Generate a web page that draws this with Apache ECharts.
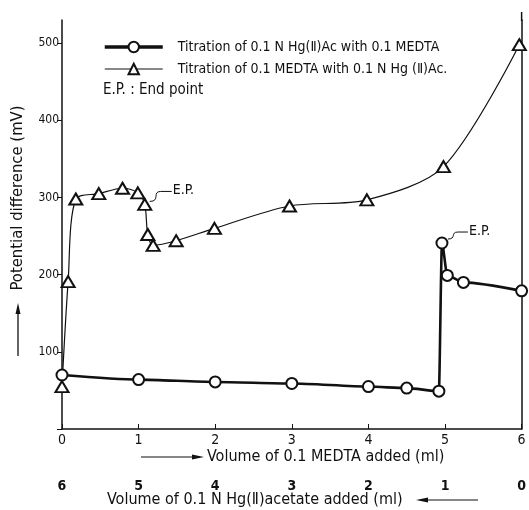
<!DOCTYPE html>
<html><head><meta charset="utf-8">
<script src="https://cdn.jsdelivr.net/npm/echarts@6/dist/echarts.min.js"></script>
<style>html,body{margin:0;padding:0;background:#fff}#c{width:529px;height:510px}</style>
</head><body><div id="c"></div>
<script>
const hgTitratedX = [0,1,2,3,4,4.5,4.92,4.96,5.03,5.24,6];
const hgTitratedY = [70,64,61,59,55,53,49,241,199,190,179];
const edtaTitratedX = [0,0.08,0.18,0.48,0.79,0.99,1.08,1.12,1.19,1.49,1.99,2.97,3.98,4.98,5.97];
const edtaTitratedY = [55,191,298,305,312,306,291,252,238,244,260,289,297,340,498];
const seriesNames = ['Titration of 0.1 N Hg(Ⅱ)Ac with 0.1 MEDTA','Titration of 0.1 MEDTA with 0.1 N Hg (Ⅱ)Ac.'];
const epPoints = [[1.08,291],[4.96,241]];

const FONT = '"DejaVu Sans Condensed","Liberation Sans Narrow","Liberation Sans",Arial,sans-serif';
const chart = echarts.init(document.getElementById('c'), null, {renderer:'canvas'});
const zip = (xs,ys)=>xs.map((x,i)=>[x,ys[i]]);

chart.setOption({
  animation:false,
  backgroundColor:'#fff',
  grid:{left:62,right:4,top:20,bottom:81},
  legend:{
    orient:'vertical', left:98, top:35, itemWidth:58, itemHeight:13, itemGap:8,
    textStyle:{fontFamily:FONT,fontSize:14,color:'#111',padding:[0,0,0,10]},
    data:[{name:seriesNames[0],lineStyle:{width:3.5}},{name:seriesNames[1],lineStyle:{width:1.2}}]
  },
  xAxis:[{
    type:'value',min:0,max:6,interval:1,position:'bottom',
    axisLine:{lineStyle:{color:'#111',width:1.5}},
    axisTick:{inside:true,length:5,lineStyle:{color:'#111'}},
    axisLabel:{margin:4,fontSize:14,color:'#111',fontFamily:FONT},
    splitLine:{show:false}
  },{
    type:'value',min:0,max:6,interval:1,position:'bottom',inverse:true,offset:46,
    axisLine:{show:false},axisTick:{show:false},
    axisLabel:{margin:4,fontSize:14,color:'#111',fontWeight:'bold',fontFamily:FONT},
    splitLine:{show:false}
  }],
  yAxis:[{
    type:'value',min:0,max:530,interval:100,position:'left',
    axisLine:{show:true,lineStyle:{color:'#111',width:1.5}},
    axisTick:{show:true,length:5,lineStyle:{color:'#111'}},
    axisLabel:{margin:3,fontSize:12,color:'#111',fontFamily:FONT,showMaxLabel:false,
      formatter:v=>v===0?'':String(v)},
    splitLine:{show:false}
  },{
    type:'value',min:0,max:530,position:'right',
    axisLine:{show:true,lineStyle:{color:'#111',width:1.5}},
    axisTick:{show:false},axisLabel:{show:false},splitLine:{show:false}
  }],
  series:[{
    name:seriesNames[0],type:'line',data:zip(hgTitratedX,hgTitratedY),
    symbol:'emptyCircle',symbolSize:11,
    lineStyle:{color:'#111',width:2.6},itemStyle:{color:'#111',borderWidth:1.3},
    smooth:0.25,smoothMonotone:'x'
  },{
    name:seriesNames[1],type:'line',data:zip(edtaTitratedX,edtaTitratedY),
    symbol:'emptyTriangle',symbolSize:[13,11],
    lineStyle:{color:'#111',width:1.2},itemStyle:{color:'#111',borderWidth:1.2},
    smooth:0.3
  }]
});

const p1 = chart.convertToPixel({gridIndex:0},epPoints[0]);
const p2 = chart.convertToPixel({gridIndex:0},epPoints[1]);
const pTop = chart.convertToPixel({gridIndex:0},[6,530]);
const g = [];
const S = {stroke:'#111',fill:null,lineWidth:1};
// E.P. annotations
g.push({type:'bezierCurve',shape:{x1:p1[0]+5,y1:p1[1]-3,cpx1:p1[0]+16,cpy1:p1[1]-3,cpx2:p1[0]+7,cpy2:p1[1]-13,x2:p1[0]+16,y2:p1[1]-13},style:S});
g.push({type:'line',shape:{x1:p1[0]+16,y1:p1[1]-13,x2:p1[0]+27,y2:p1[1]-13},style:S});
g.push({type:'text',left:p1[0]+28,top:p1[1]-21,style:{text:'E.P.',font:`14px ${FONT}`,fill:'#111'}});
g.push({type:'bezierCurve',shape:{x1:p2[0]+6,y1:p2[1]-4,cpx1:p2[0]+15,cpy1:p2[1]-4,cpx2:p2[0]+8,cpy2:p2[1]-11,x2:p2[0]+16,y2:p2[1]-11},style:S});
g.push({type:'line',shape:{x1:p2[0]+16,y1:p2[1]-11,x2:p2[0]+26,y2:p2[1]-11},style:S});
g.push({type:'text',left:p2[0]+27,top:p2[1]-19,style:{text:'E.P.',font:`14px ${FONT}`,fill:'#111'}});
// legend note
g.push({type:'text',left:103,top:83,style:{text:'E.P. : End point',font:`15px ${FONT}`,fill:'#111'}});
// right frame extension (aligned to axis)
g.push({type:'line',shape:{x1:pTop[0],y1:pTop[1]-8,x2:pTop[0],y2:pTop[1]+1},style:{stroke:'#111',lineWidth:1.5}});
// y axis title and arrow
g.push({type:'text',x:18,y:198,rotation:Math.PI/2,style:{text:'Potential difference (mV)',font:`16.5px ${FONT}`,fill:'#111',align:'center',verticalAlign:'middle'}});
g.push({type:'line',shape:{x1:18,y1:356,x2:18,y2:310},style:{stroke:'#111',lineWidth:1.3}});
g.push({type:'polygon',shape:{points:[[18,303],[15.5,314],[20.5,314]]},style:{fill:'#111'}});
// x axis titles and arrows
g.push({type:'line',shape:{x1:141,y1:457,x2:196,y2:457},style:{stroke:'#111',lineWidth:1.2}});
g.push({type:'polygon',shape:{points:[[204,457],[192,454.5],[192,459.5]]},style:{fill:'#111'}});
g.push({type:'text',left:207,top:449,style:{text:'Volume of 0.1 MEDTA added (ml)',font:`16px ${FONT}`,fill:'#111'}});
g.push({type:'text',left:107,top:492,style:{text:'Volume of 0.1 N Hg(Ⅱ)acetate added (ml)',font:`16px ${FONT}`,fill:'#111'}});
g.push({type:'line',shape:{x1:424,y1:500,x2:478,y2:500},style:{stroke:'#111',lineWidth:1.2}});
g.push({type:'polygon',shape:{points:[[416,500],[428,497.5],[428,502.5]]},style:{fill:'#111'}});
chart.setOption({graphic:g});
</script></body></html>
